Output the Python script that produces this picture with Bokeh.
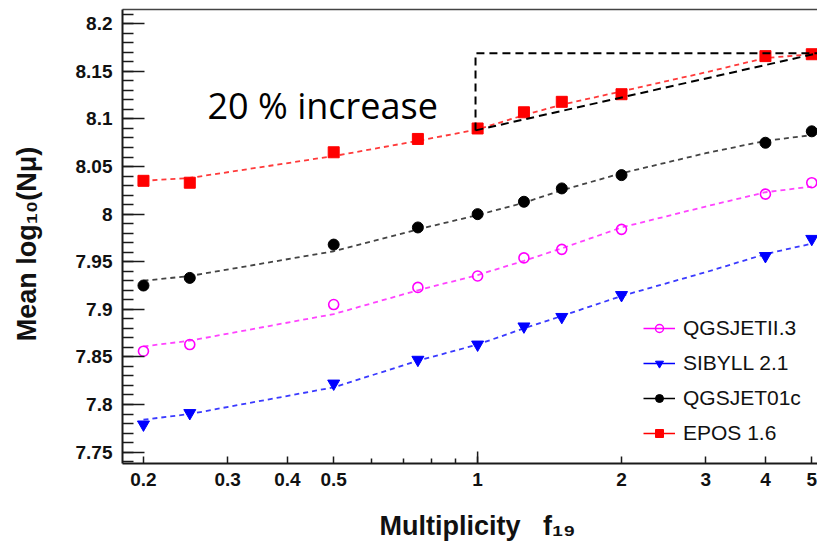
from bokeh.plotting import figure
from bokeh.models import (FixedTicker, SingleIntervalTicker, CustomJSTickFormatter, Label,
                          Legend, LegendItem, LinearAxis, Range1d)
from bokeh.embed import file_html
from bokeh.resources import INLINE

# ---- data ----
f19 = [0.2, 0.25, 0.5, 0.75, 1.0, 1.25, 1.5, 2.0, 4.0, 5.0]
epos = [8.035, 8.033, 8.065, 8.079, 8.090, 8.107, 8.118, 8.126, 8.166, 8.168]
qgsjet01c = [7.925, 7.933, 7.968, 7.986, 8.000, 8.013, 8.027, 8.041, 8.075, 8.087]
qgsjetii3 = [7.856, 7.863, 7.905, 7.923, 7.935, 7.954, 7.963, 7.984, 8.021, 8.033]
sibyll = [7.779, 7.791, 7.822, 7.847, 7.863, 7.882, 7.892, 7.915, 7.956, 7.974]

fit_x = [0.2, 0.25, 0.5, 0.75, 1.0, 1.25, 1.5, 2.0, 3.0, 4.0, 5.0]
epos_fit = [8.035, 8.038, 8.061, 8.077, 8.089, 8.104, 8.115, 8.129, 8.149, 8.164, 8.168]
qgsjet01c_fit = [7.930, 7.935, 7.961, 7.984, 7.999, 8.012, 8.025, 8.043, 8.064, 8.077, 8.083]
qgsjetii3_fit = [7.861, 7.867, 7.895, 7.920, 7.936, 7.951, 7.964, 7.986, 8.008, 8.023, 8.029]
sibyll_fit = [7.784, 7.790, 7.818, 7.846, 7.863, 7.880, 7.893, 7.914, 7.939, 7.958, 7.969]

series_names = ["QGSJETII.3", "SIBYLL 2.1", "QGSJET01c", "EPOS 1.6"]

# "20 % increase" bracket
bracket_x = [0.99, 0.99, 5.14]
bracket_y = [8.088, 8.169, 8.169]
diag_x = [0.99, 5.14]
diag_y = [8.088, 8.169]

x_ticks = [0.2, 0.3, 0.4, 0.5, 1, 2, 3, 4, 5]
x_minor = [0.6, 0.7, 0.8, 0.9]
X0, X1 = 0.1808, 5.14
Y0, Y1 = 7.738, 8.215

W, H = 817, 551
L, T, B, R = 122, 9, 88, 0
NB = "\u00a0"

p = figure(width=W, height=H, x_axis_type="log",
           x_range=Range1d(X0, X1), y_range=Range1d(Y0, Y1),
           output_backend="svg", toolbar_location=None,
           min_border_left=L, min_border_top=T, min_border_bottom=B, min_border_right=R,
           background_fill_color="white", border_fill_color="white")
p.outline_line_color = None
p.grid.visible = False

# axes
xa = p.xaxis[0]
xa.ticker = FixedTicker(ticks=x_ticks, minor_ticks=x_minor)
xa.formatter = CustomJSTickFormatter(code="return tick.toString()")
xa.major_tick_in = 7
xa.major_tick_out = 0
xa.minor_tick_in = 5
xa.minor_tick_out = 0
xa.axis_line_width = 2
xa.axis_line_color = "#1a1a1a"
xa.major_tick_line_width = 1.5
xa.minor_tick_line_width = 1.5
xa.major_tick_line_color = "#1a1a1a"
xa.minor_tick_line_color = "#1a1a1a"
xa.major_label_text_font = "Liberation Sans"
xa.major_label_text_font_style = "bold"
xa.major_label_text_font_size = "19px"
xa.major_label_text_color = "#111111"
xa.major_label_standoff = 9
xa.axis_label = NB * 2 + "Multiplicity" + NB * 3 + "f\u2081\u2089"
xa.axis_label_text_font = "Liberation Sans"
xa.axis_label_text_font_style = "bold"
xa.axis_label_text_font_size = "27px"
xa.axis_label_text_color = "#111111"
xa.axis_label_standoff = 22

ya = p.yaxis[0]
ya.ticker = SingleIntervalTicker(interval=0.05, num_minor_ticks=5)
ya.formatter = CustomJSTickFormatter(code="return String(Math.round(tick*100)/100)")
ya.major_tick_in = 22
ya.major_tick_out = 0
ya.minor_tick_in = 11
ya.minor_tick_out = 0
ya.axis_line_width = 2
ya.axis_line_color = "#1a1a1a"
ya.major_tick_line_width = 1.5
ya.minor_tick_line_width = 1.5
ya.major_tick_line_color = "#1a1a1a"
ya.minor_tick_line_color = "#1a1a1a"
ya.major_label_text_font = "Liberation Sans"
ya.major_label_text_font_style = "bold"
ya.major_label_text_font_size = "19px"
ya.major_label_text_color = "#111111"
ya.major_label_standoff = 10
ya.axis_label = "Mean log\u2081\u2080(N\u03bc)" + NB * 2
ya.axis_label_text_font = "Liberation Sans"
ya.axis_label_text_font_style = "bold"
ya.axis_label_text_font_size = "27px"
ya.axis_label_text_color = "#111111"
ya.axis_label_standoff = 31

top = LinearAxis(ticker=FixedTicker(ticks=[]), major_label_text_font_size="0px",
                 major_tick_line_color=None, minor_tick_line_color=None,
                 axis_line_width=1.5, axis_line_color="#444444", major_label_standoff=0)
p.add_layout(top, "above")

# longer tick at 1
tick_len = 12 * (Y1 - Y0) / (H - T - B)
p.segment(x0=[1], y0=[Y0], x1=[1], y1=[Y0 + tick_len], line_color="#1a1a1a", line_width=1.5)

styles = [
    (qgsjetii3, qgsjetii3_fit, "#ff00ff", "#ff44ff", "circle", False, 10),
    (sibyll, sibyll_fit, "#0000ff", "#3a3aff", "inverted_triangle", True, 12),
    (qgsjet01c, qgsjet01c_fit, "#000000", "#444444", "circle", True, 11),
    (epos, epos_fit, "#ff0000", "#ff3a3a", "square", True, 11),
]

items = []
for name, (vals, fit, col, fitcol, mk, filled, sz) in zip(series_names, styles):
    p.line(fit_x, fit, line_color=fitcol, line_width=1.8, line_dash="5 4")
    p.scatter(f19, vals, marker=mk, size=sz, line_color=col, line_width=1.6 if not filled else 1,
              fill_color=col if filled else None)
    lr = p.line(fit_x, fit, line_color=col, line_width=1.5, visible=False)
    sr = p.scatter(f19, vals, marker=mk, size=sz - 1, line_color=col, line_width=1.5 if not filled else 1,
                   fill_color=col if filled else None, visible=False)
    items.append(LegendItem(label=name, renderers=[lr, sr]))

legend = Legend(items=items, location=(521, 18), orientation="vertical",
                glyph_width=32, glyph_height=20, label_standoff=8, spacing=11,
                padding=0, margin=0, border_line_color=None, background_fill_alpha=0,
                label_text_font="Liberation Sans", label_text_font_size="21px",
                label_text_color="#111111")
p.add_layout(legend)

# bracket
p.line(bracket_x, bracket_y, line_color="black", line_width=2, line_dash="8 5")
p.line(diag_x, diag_y, line_color="black", line_width=2, line_dash="8 5")

p.add_layout(Label(x=85, y=358, x_units="screen", y_units="screen", text="20 % increase",
                   text_font="Open Sans", text_font_size="36px", text_color="black",
                   text_baseline="alphabetic"))

open("out.html", "w").write(file_html(p, INLINE))
